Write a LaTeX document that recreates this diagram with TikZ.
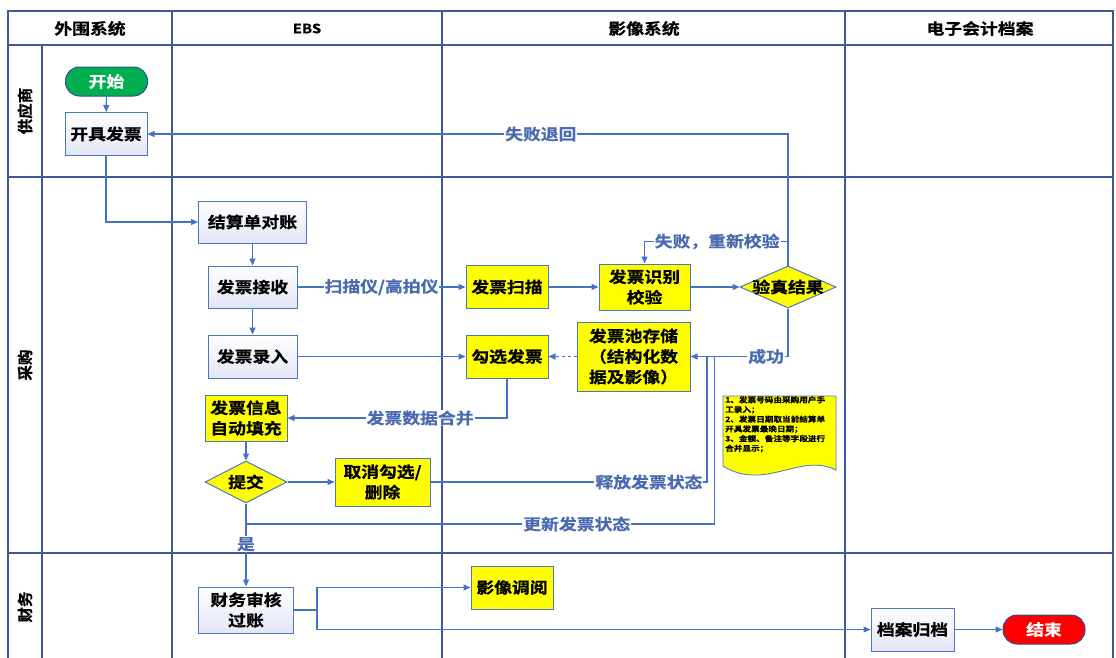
\documentclass[tikz,border=0pt]{standalone}
\usepackage{fontspec}
\usetikzlibrary{arrows.meta,shapes.geometric,calc}
\newfontfamily\cjk[FakeStretch=1.15,BoldFont={Noto Sans CJK SC Bold},BoldFeatures={FakeBold=0.8}]{Noto Sans CJK SC}
\newfontfamily\cjkn[BoldFont={Noto Sans CJK SC Bold},BoldFeatures={FakeBold=0.8}]{Noto Sans CJK SC}
\definecolor{frame}{HTML}{3E5A94}
\definecolor{conn}{HTML}{4472C4}
\definecolor{lbl}{HTML}{4A6BB0}
\definecolor{bord}{HTML}{4A76C0}
\definecolor{yel}{HTML}{FFFF00}
\definecolor{grn}{HTML}{00B050}
\definecolor{lav}{HTML}{E2E6F4}
\definecolor{termb}{HTML}{2F4F8F}
\begin{document}
\begin{tikzpicture}[x=1pt,y=-1pt,
  every node/.style={font=\cjk\bfseries\fontsize{15.5}{20.5}\selectfont, inner sep=0pt, align=center},
  wbox/.style={draw=bord, line width=1pt, top color=white, bottom color=lav},
  ybox/.style={draw=bord, line width=1pt, fill=yel},
  term/.style={draw=termb, line width=1pt, rounded corners=14pt, text=white, minimum width=82, minimum height=29},
  dia/.style={diamond, draw=bord, line width=1pt, fill=yel, inner sep=0pt},
  conn/.style={draw=conn, line width=1.1pt},
  arr/.style={conn, -{Triangle[length=7pt,width=6pt]}},
  clab/.style={fill=white, text=lbl, inner sep=1pt},
  fr/.style={draw=frame, line width=1.1pt},
  lane/.style={font=\cjkn\bfseries\fontsize{15.5}{18}\selectfont, rotate=90}
]
\useasboundingbox (0,0) rectangle (1116,657);
% frame
\draw[fr] (8,660) -- (8,11) -- (1113,11) -- (1113,660);
\draw[fr] (8,45) -- (1113,45);
\draw[fr] (8,177) -- (1113,177);
\draw[fr] (8,553) -- (1113,553);
\draw[fr] (42,45) -- (42,660);
\draw[fr] (172,11) -- (172,660);
\draw[fr] (442,11) -- (442,660);
\draw[fr] (845,11) -- (845,660);
% headers
\node (h1) at (90,28.5) {外围系统};
\node (h2) at (307,28.5) {\fontsize{13}{15}\selectfont EBS};
\node (h3) at (644,28.5) {影像系统};
\node (h4) at (980,28.5) {电子会计档案};
% lane labels
\node[lane] (l1) at (25,111) {供应商};
\node[lane] (l2) at (25,365) {采购};
\node[lane] (l3) at (25,607) {财务};
% nodes
\node[term, fill=grn] (start) at (106.5,81.5) {开始};
\node[wbox, minimum width=82, minimum height=43] (kjfp) at (106,134) {开具发票};
\node[wbox, minimum width=108, minimum height=42] (jsd) at (252.5,222) {结算单对账};
\node[wbox, minimum width=89, minimum height=42] (fpjs) at (252.5,287) {发票接收};
\node[wbox, minimum width=89, minimum height=43] (fplr) at (252.5,356.5) {发票录入};
\node[ybox, minimum width=82, minimum height=43] (fpsm) at (507,287) {发票扫描};
\node[ybox, minimum width=82, minimum height=43] (gxfp) at (507,356.5) {勾选发票};
\node[ybox, minimum width=91, minimum height=46] (fpsb) at (644.5,287) {发票识别\\校验};
\node[dia, minimum width=96, minimum height=42, label={center:验真结果}] (yzjg) at (788,287) {};
\node[ybox, minimum width=113, minimum height=69] (fpcc) at (633.5,356.5) {发票池存储\\（结构化数\\据及影像）};
\node[ybox, minimum width=82, minimum height=46] (xxtc) at (246,418) {发票信息\\自动填充};
\node[dia, minimum width=82, minimum height=42, label={center:提交}] (tj) at (246,482) {};
\node[ybox, minimum width=95, minimum height=48] (qxsc) at (382.5,482) {取消勾选/\\删除};
\node[wbox, minimum width=95, minimum height=46] (cwsh) at (246,610) {财务审核\\过账};
\node[ybox, minimum width=82, minimum height=43] (yxdy) at (512,587.5) {影像调阅};
\node[wbox, minimum width=83, minimum height=43] (dagd) at (912.5,629.5) {档案归档};
\node[term, fill=red] (end) at (1044,629.5) {结束};
% note
\draw[draw=bord, line width=0.8pt, fill=yel] (723,396) -- (836,396) -- (836,470)
  .. controls (800,452) and (765,492) .. (723,466) -- cycle;
\node[anchor=north west, align=left, font=\cjk\bfseries\fontsize{7.5}{9.7}\selectfont] (note) at (725,396)
  {1、发票号码由采购用户手\\工录入；\\2、发票日期取当前结算单\\开具发票最晚日期；\\3、金额、备注等字段进行\\合并显示；};
% coordinates
\coordinate (c1) at (707,356.5);
\coordinate (c2) at (714.5,356.5);
\coordinate (u1) at (246,524);
\coordinate (split) at (317,610);
% connectors
\draw[arr] (start) -- (kjfp);
\draw[arr] (kjfp.south) |- (jsd.west);
\draw[arr] (jsd) -- (fpjs);
\draw[arr] (fpjs) -- node[clab]{扫描仪/高拍仪} (fpsm);
\draw[arr] (fpjs) -- (fplr);
\draw[arr] (fplr) -- (gxfp);
\draw[arr] (fpsm) -- (fpsb);
\draw[arr] (fpsb) -- (yzjg.west);
\draw[arr] (yzjg.north) |- node[clab,pos=0.693]{失败退回} (kjfp.east);
\draw[arr] (yzjg.north) -- ++(0,-24) -| node[clab,pos=0.247]{失败，重新校验} (fpsb.north);
\draw[arr] (yzjg.south) |- node[clab,pos=0.612]{成功} (fpcc.east);
\draw[arr, dashed] (fpcc.west) -- (gxfp.east);
\draw[arr] (gxfp.south) |- node[clab,pos=0.698]{发票数据合并} (xxtc.east);
\draw[arr] (xxtc) -- (tj);
\draw[arr] (tj.east) -- (qxsc.west);
\draw[conn] (qxsc.east) -| node[clab,pos=0.395]{释放发票状态} (c1);
\draw[conn] (tj.south) -- (u1) -| node[clab,pos=0.353]{更新发票状态} (c2);
\draw[arr] (tj.south) -- node[clab,pos=0.49]{是} (cwsh.north);
\draw[conn] (cwsh.east) -- (split);
\draw[arr] (split) |- (yxdy.west);
\draw[arr] (split) |- (dagd.west);
\draw[arr] (dagd) -- (end);
\end{tikzpicture}
\end{document}
